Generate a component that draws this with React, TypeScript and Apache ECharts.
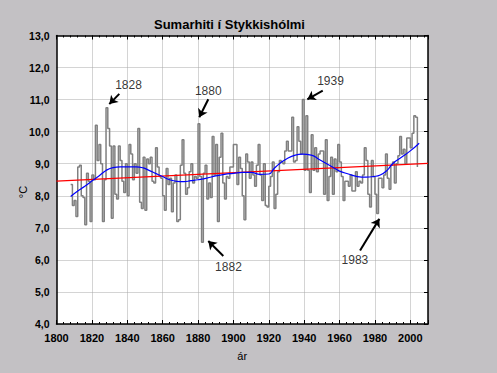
import React, { useEffect, useRef } from "react";
import * as echarts from "echarts";

const startYear = 1808;
const summerTemps = [
  8.35, 7.7, 7.85, 7.35, 8.9, 8.95, 8.0, 7.95, 7.1, 8.7,
  8.45, 7.2, 8.65, 8.5, 10.2, 9.1, 9.6, 9.0, 7.2, 8.5,
  10.75, 10.1, 9.55, 7.3, 9.55, 8.05, 7.9, 9.55, 9.1, 8.45,
  8.1, 9.0, 8.0, 9.6, 9.3, 8.5, 9.0, 8.7, 10.1, 7.8,
  7.6, 9.2, 7.55, 9.15, 9.0, 9.2, 8.45, 8.4, 9.5, 8.9,
  8.6, 8.55, 8.0, 7.55, 8.85, 8.35, 8.55, 7.5, 8.4, 8.65,
  7.2, 7.25, 8.95, 9.75, 8.7, 8.05, 8.25, 8.75, 9.0, 8.4,
  8.6, 8.55, 10.25, 8.6, 6.55, 8.7, 8.95, 7.9, 8.4, 7.95,
  9.85, 8.65, 9.6, 7.2, 9.2, 9.95, 8.4, 7.9, 8.6, 8.55,
  8.9, 8.9, 9.6, 9.6, 8.35, 9.2, 8.85, 8.0, 7.25, 9.3,
  9.05, 8.55, 9.05, 8.65, 8.3, 8.95, 9.6, 8.65, 7.85, 9.0,
  7.7, 7.65, 8.3, 8.6, 9.05, 7.6, 8.05, 8.75, 9.1, 9.05,
  9.0, 9.4, 9.7, 9.4, 9.4, 10.45, 9.05, 9.1, 10.15, 9.7,
  9.3, 11.0, 8.8, 10.5, 8.8, 8.1, 9.9, 8.8, 9.5, 8.75,
  9.3, 9.4, 9.4, 8.05, 9.75, 7.85, 8.6, 9.2, 8.05, 9.15,
  8.75, 9.6, 9.05, 8.6, 7.85, 8.45, 8.45, 8.3, 8.65, 8.15,
  8.15, 8.75, 8.3, 8.45, 8.4, 8.65, 9.5, 9.1, 8.05, 7.65,
  9.1, 8.6, 8.05, 7.45, 8.55, 8.55, 8.25, 8.65, 9.3, 8.55,
  8.2, 8.95, 9.05, 8.4, 9.0, 9.25, 9.85, 9.3, 9.45, 9.0,
  9.8, 9.8, 9.5, 9.95, 10.5, 10.45, 8.9,
];

const trendYears = [1800, 2010];
const trendValues = [8.46, 9.01];

const smoothYears = [
  1808, 1812, 1816, 1820, 1824, 1828, 1832, 1836, 1840, 1845, 1849, 1852,
  1856, 1860, 1864, 1868, 1872, 1876, 1880, 1885, 1890, 1895, 1900, 1905,
  1910, 1915, 1920, 1923, 1926, 1930, 1935, 1939, 1944, 1948, 1952, 1956,
  1960, 1965, 1970, 1975, 1979, 1983, 1987, 1990, 1995, 2000, 2005,
];
const smoothValues = [
  7.98, 8.15, 8.3, 8.46, 8.62, 8.79, 8.88, 8.9, 8.9, 8.9, 8.87, 8.8,
  8.7, 8.6, 8.5, 8.45, 8.44, 8.47, 8.5, 8.55, 8.62, 8.67, 8.7, 8.73,
  8.73, 8.67, 8.68, 8.85, 9.0, 9.15, 9.27, 9.3, 9.27, 9.15, 9.02, 8.9,
  8.77, 8.68, 8.6, 8.58, 8.6, 8.65, 8.8, 9.0, 9.2, 9.4, 9.64,
];

const noteLabels = ["1828", "1880", "1939", "1882", "1983"];
const noteTextYears = [1840.7, 1885.8, 1954.9, 1897.2, 1968.7];
const noteTextValues = [11.46, 11.28, 11.59, 5.78, 6.0];
const arrowFromYears = [1835.5, 1885.8, 1950.5, 1894.3, 1971.6];
const arrowFromValues = [11.18, 11.01, 11.28, 6.12, 6.29];
const arrowToYears = [1829.85, 1880.7, 1941.8, 1885.8, 1982.5];
const arrowToValues = [10.86, 10.45, 11.01, 6.59, 7.28];

const FONT = "Arial, 'Liberation Sans', sans-serif";

export default function App() {
  const ref = useRef<HTMLDivElement>(null);
  useEffect(() => {
    if (!ref.current) return;
    const chart = echarts.init(ref.current, undefined, { renderer: "svg" });
    const stepData = summerTemps.map((v, i) => [startYear + i, v]);
    const trendData = trendYears.map((y, i) => [y, trendValues[i]]);
    const smoothData = smoothYears.map((y, i) => [y, smoothValues[i]]);
    const noteData = noteLabels.map((t, i) => [noteTextYears[i], noteTextValues[i], t]);
    const arrows = noteLabels.map((_, i) => [
      { coord: [arrowFromYears[i], arrowFromValues[i]] },
      { coord: [arrowToYears[i], arrowToValues[i]] },
    ]);
    const axisLineStyle = { color: "#000", width: 1.5 };
    chart.setOption({
      animation: false,
      backgroundColor: "#c3c1c4",
      textStyle: { fontFamily: FONT },
      title: {
        text: "Sumarhiti í Stykkishólmi",
        left: 224.5,
        top: 13,
        textAlign: "center",
        textStyle: { fontFamily: FONT, fontSize: 13, fontWeight: "bold", color: "#000" },
      },
      grid: {
        left: 56.5,
        top: 35.5,
        right: 69,
        bottom: 49,
        show: true,
        backgroundColor: "#fff",
        borderWidth: 0,
      },
      xAxis: [
        {
          type: "value",
          min: 1800,
          max: 2010,
          interval: 20,
          position: "bottom",
          axisLine: { show: true, lineStyle: axisLineStyle },
          axisTick: { show: true, inside: true, length: 4, lineStyle: { color: "#000" } },
          minorTick: { show: true, splitNumber: 5, length: 2, lineStyle: { color: "#000" } },
          axisLabel: {
            margin: 8,
            fontFamily: FONT,
            fontSize: 11,
            fontWeight: "bold",
            color: "#000",
            formatter: (v: number) => (v % 20 === 0 ? String(v) : ""),
          },
          splitLine: { show: true, lineStyle: { type: "dotted", color: "#a8a8a8", width: 1 } },
          name: "ár",
          nameLocation: "middle",
          nameGap: 26,
          nameTextStyle: { fontFamily: FONT, fontSize: 11, color: "#000" },
        },
        {
          type: "value",
          min: 1800,
          max: 2010,
          interval: 20,
          position: "top",
          axisLine: { show: true, lineStyle: axisLineStyle },
          axisTick: { show: true, inside: true, length: 4, lineStyle: { color: "#000" } },
          minorTick: { show: true, splitNumber: 5, length: 2, lineStyle: { color: "#000" } },
          axisLabel: { show: false },
          splitLine: { show: false },
        },
      ],
      yAxis: [
        {
          type: "value",
          min: 4,
          max: 13,
          interval: 1,
          position: "left",
          axisLine: { show: true, lineStyle: axisLineStyle },
          axisTick: { show: false },
          axisLabel: {
            margin: 7,
            fontFamily: FONT,
            fontSize: 10.5,
            fontWeight: "bold",
            color: "#000",
            formatter: (v: number) => v.toFixed(1).replace(".", ","),
          },
          splitLine: { show: true, lineStyle: { type: "dotted", color: "#a8a8a8", width: 1 } },
        },
        {
          type: "value",
          min: 4,
          max: 13,
          interval: 1,
          position: "right",
          axisLine: { show: true, lineStyle: axisLineStyle },
          axisTick: { show: true, inside: true, length: 4, lineStyle: { color: "#000" } },
          axisLabel: { show: false },
          splitLine: { show: false },
        },
      ],
      graphic: [
        {
          type: "text",
          x: 23,
          y: 192,
          rotation: Math.PI / 2,
          style: {
            text: "°C",
            fontFamily: FONT,
            fontSize: 11,
            fill: "#000",
            align: "center",
            verticalAlign: "middle",
          },
        },
      ],
      series: [
        {
          type: "line",
          step: "end",
          data: stepData,
          showSymbol: false,
          lineStyle: { color: "#808080", width: 1.5 },
          z: 2,
        },
        {
          type: "line",
          data: trendData,
          showSymbol: false,
          lineStyle: { color: "#ff0000", width: 1.3 },
          z: 3,
          markLine: {
            silent: true,
            symbol: ["none", "arrow"],
            symbolSize: 8,
            label: { show: false },
            lineStyle: { color: "#000", width: 2, type: "solid" },
            data: arrows,
          },
        },
        {
          type: "line",
          data: smoothData,
          smooth: true,
          showSymbol: false,
          lineStyle: { color: "#0000ff", width: 1.2 },
          z: 4,
        },
        {
          type: "scatter",
          data: noteData,
          symbolSize: 0,
          label: {
            show: true,
            position: "inside",
            formatter: (p: any) => p.data[2],
            fontFamily: FONT,
            fontSize: 12,
            color: "#000",
          },
          z: 5,
        },
      ],
    });
    return () => chart.dispose();
  }, []);
  return (
    <div
      ref={ref}
      style={{ position: "fixed", left: 0, top: 0, width: 497, height: 373 }}
    />
  );
}
